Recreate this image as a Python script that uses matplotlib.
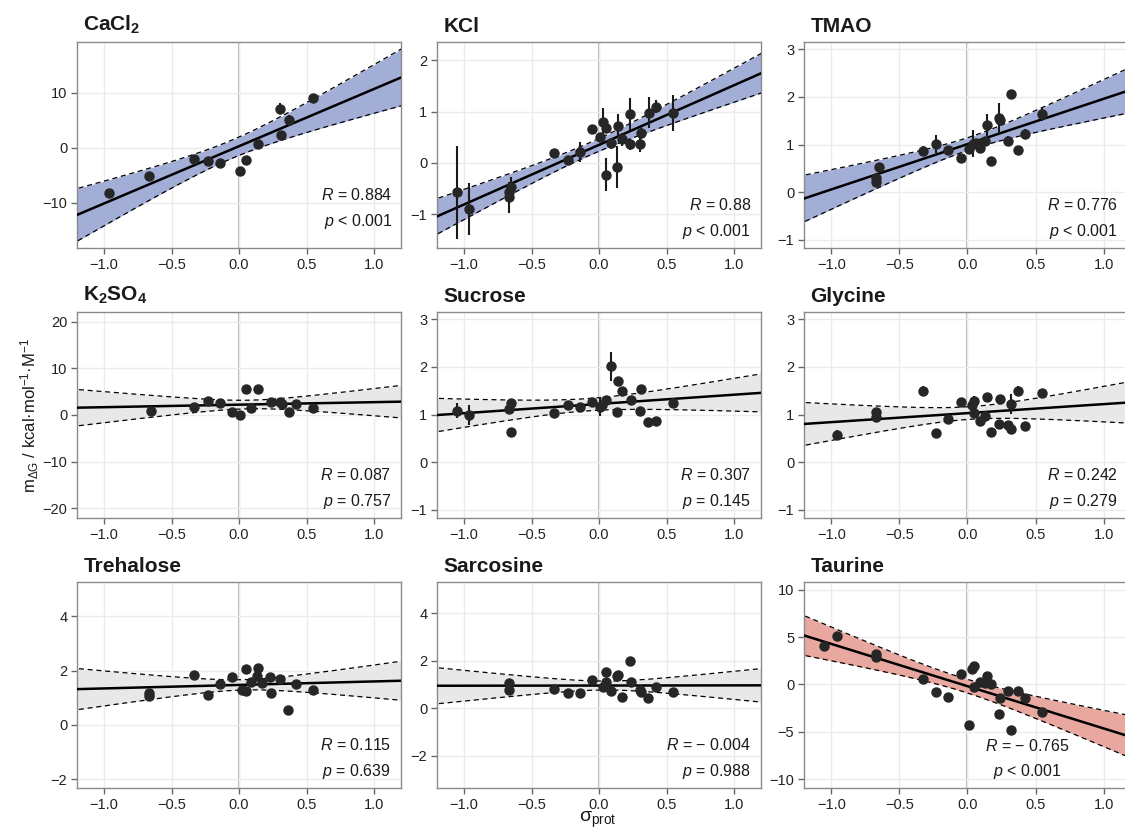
import numpy as np
import matplotlib
matplotlib.use("Agg")
import matplotlib.pyplot as plt

plt.rcParams['font.family'] = ['Liberation Sans', 'DejaVu Sans']
plt.rcParams['mathtext.fontset'] = 'custom'
plt.rcParams['mathtext.rm'] = 'Liberation Sans'
plt.rcParams['mathtext.it'] = 'Liberation Sans:italic'
plt.rcParams['mathtext.bf'] = 'Liberation Sans:bold'

# ---- data ----
cacl2_x = [-0.96, -0.67, -0.33, -0.23, -0.14, 0.01, 0.05, 0.14, 0.30, 0.31, 0.37, 0.55]
cacl2_y = [-8.2, -5.2, -2.1, -2.4, -2.8, -4.3, -2.3, 0.7, 7.1, 2.4, 5.1, 9.1]
cacl2_err = [0, 0, 0, 0, 0, 0, 0, 0, 1.0, 0, 0.8, 0.7]

kcl_x = [-1.05, -0.96, -0.67, -0.67, -0.65, -0.33, -0.23, -0.14, -0.05, 0.01, 0.03, 0.05,
         0.05, 0.09, 0.13, 0.14, 0.17, 0.23, 0.23, 0.30, 0.31, 0.37, 0.42, 0.55]
kcl_y = [-0.57, -0.90, -0.67, -0.57, -0.47, 0.20, 0.06, 0.21, 0.66, 0.50, 0.80, 0.69,
         -0.23, 0.38, -0.07, 0.73, 0.46, 0.95, 0.36, 0.36, 0.59, 0.98, 1.10, 0.97]
kcl_err = [0.91, 0.50, 0.30, 0.10, 0.20, 0.0, 0.08, 0.20, 0.0, 0.0, 0.28, 0.0,
           0.32, 0.10, 0.41, 0.22, 0.13, 0.31, 0.10, 0.15, 0.12, 0.30, 0.13, 0.35]

tmao_x = [-0.67, -0.67, -0.65, -0.33, -0.23, -0.14, -0.05, 0.01, 0.04, 0.06, 0.09, 0.13,
          0.14, 0.17, 0.23, 0.24, 0.30, 0.32, 0.37, 0.42, 0.55]
tmao_y = [0.22, 0.30, 0.53, 0.87, 1.02, 0.88, 0.71, 0.90, 1.02, 1.03, 0.92, 1.07,
          1.41, 0.66, 1.56, 1.52, 1.08, 2.05, 0.89, 1.22, 1.63]
tmao_err = [0, 0, 0.08, 0.10, 0.19, 0, 0, 0.05, 0.28, 0, 0.10, 0,
            0.23, 0, 0.31, 0, 0.10, 0.10, 0, 0.10, 0.13]

k2so4_x = [-0.65, -0.33, -0.23, -0.14, -0.05, 0.01, 0.05, 0.09, 0.14, 0.24, 0.30, 0.32,
           0.37, 0.42, 0.55]
k2so4_y = [0.85, 1.7, 3.0, 2.6, 0.7, 0.07, 5.5, 1.6, 5.5, 2.8, 2.8, 2.4, 0.6, 2.3, 1.4]
k2so4_err = [0] * 15

sucrose_x = [-1.05, -0.96, -0.67, -0.65, -0.65, -0.33, -0.23, -0.14, -0.05, 0.01, 0.02,
             0.05, 0.09, 0.14, 0.17, 0.13, 0.24, 0.30, 0.31, 0.36, 0.42, 0.55]
sucrose_y = [1.08, 0.99, 1.11, 1.24, 0.64, 1.03, 1.19, 1.15, 1.26, 1.16, 1.19,
             1.31, 2.01, 1.71, 1.50, 1.06, 1.30, 1.08, 1.54, 0.84, 0.87, 1.24]
sucrose_err = [0.16, 0.21, 0, 0, 0, 0, 0, 0, 0, 0.20, 0,
               0.08, 0.31, 0, 0, 0, 0, 0, 0, 0, 0, 0]

glycine_x = [-0.96, -0.67, -0.67, -0.33, -0.23, -0.14, -0.05, 0.03, 0.05, 0.05, 0.09,
             0.13, 0.14, 0.17, 0.23, 0.24, 0.30, 0.32, 0.32, 0.37, 0.42, 0.55]
glycine_y = [0.58, 1.05, 0.94, 1.50, 0.61, 0.91, 1.26, 1.19, 1.28, 1.03, 0.87,
             0.97, 1.36, 0.63, 0.80, 1.33, 0.78, 1.22, 0.69, 1.50, 0.76, 1.45]
glycine_err = [0.10, 0.05, 0.05, 0.10, 0, 0, 0.05, 0, 0.10, 0, 0,
               0, 0.10, 0, 0, 0, 0, 0.20, 0, 0.10, 0, 0.05]

trehalose_x = [-0.67, -0.67, -0.33, -0.23, -0.14, -0.05, 0.02, 0.05, 0.05, 0.09, 0.13,
               0.14, 0.17, 0.23, 0.24, 0.30, 0.36, 0.42, 0.55]
trehalose_y = [1.17, 1.05, 1.83, 1.10, 1.50, 1.77, 1.30, 2.05, 1.24, 1.59, 1.80,
               2.11, 1.56, 1.78, 1.17, 1.68, 0.56, 1.50, 1.30]
trehalose_err = [0] * 19

sarcosine_x = [-0.67, -0.67, -0.33, -0.23, -0.14, -0.05, 0.03, 0.05, 0.05, 0.09, 0.13,
               0.14, 0.17, 0.23, 0.24, 0.30, 0.31, 0.36, 0.42, 0.55]
sarcosine_y = [1.07, 0.77, 0.82, 0.63, 0.63, 1.21, 0.91, 1.52, 1.10, 0.73, 1.35,
               1.41, 0.46, 1.97, 1.10, 0.75, 0.68, 0.43, 0.91, 0.70]
sarcosine_err = [0] * 20

taurine_x = [-1.05, -0.96, -0.67, -0.67, -0.33, -0.23, -0.14, -0.05, 0.01, 0.03, 0.05,
             0.05, 0.09, 0.13, 0.14, 0.17, 0.23, 0.24, 0.30, 0.32, 0.37, 0.42, 0.55]
taurine_y = [4.04, 5.16, 3.26, 2.91, 0.60, -0.81, -1.37, 1.12, -4.28, 1.65, 2.0,
             -0.28, 0.25, 0.18, 0.88, 0.10, -3.16, -1.40, -0.70, -4.84, -0.70, -1.40, -2.88]
taurine_err = [0] * 23

titles = ['CaCl$_\\mathbf{2}$', 'KCl', 'TMAO', 'K$_\\mathbf{2}$SO$_\\mathbf{4}$', 'Sucrose', 'Glycine',
          'Trehalose', 'Sarcosine', 'Taurine']
r_labels = ['0.884', '0.88', '0.776', '0.087', '0.307', '0.242', '0.115', '\u2212 0.004', '\u2212 0.765']
p_labels = ['< 0.001', '< 0.001', '< 0.001', '= 0.757', '= 0.145', '= 0.279',
            '= 0.639', '= 0.988', '< 0.001']
band_kind = ['pos', 'pos', 'pos', 'ns', 'ns', 'ns', 'ns', 'ns', 'neg']

ylims = [(-18.2, 19.2), (-1.66, 2.36), (-1.17, 3.15),
         (-22.1, 22.1), (-1.17, 3.15), (-1.17, 3.15),
         (-2.33, 5.27), (-3.35, 5.31), (-10.95, 10.84)]
yticks = [[-10, 0, 10], [-1, 0, 1, 2], [-1, 0, 1, 2, 3],
          [-20, -10, 0, 10, 20], [-1, 0, 1, 2, 3], [-1, 0, 1, 2, 3],
          [-2, 0, 2, 4], [-2, 0, 2, 4], [-10, -5, 0, 5, 10]]

series = [(cacl2_x, cacl2_y, cacl2_err), (kcl_x, kcl_y, kcl_err), (tmao_x, tmao_y, tmao_err),
          (k2so4_x, k2so4_y, k2so4_err), (sucrose_x, sucrose_y, sucrose_err),
          (glycine_x, glycine_y, glycine_err), (trehalose_x, trehalose_y, trehalose_err),
          (sarcosine_x, sarcosine_y, sarcosine_err), (taurine_x, taurine_y, taurine_err)]

band_colors = {'pos': '#a3aed6', 'neg': '#e8a8a0', 'ns': '#e8e8e8'}


def t975(df):
    # Cornish-Fisher style expansion of the t quantile
    z = 1.959964
    return (z + (z**3 + z) / (4 * df) + (5 * z**5 + 16 * z**3 + 3 * z) / (96 * df**2)
            + (3 * z**7 + 19 * z**5 + 17 * z**3 - 15 * z) / (384 * df**3))


W, H = 1125, 832
fig = plt.figure(figsize=(W / 100, H / 100), dpi=100)
col_left = [77, 437, 804]
row_top = [42, 312, 582]
ax_w, ax_h = 324, 206

for i, (xs, ys, es) in enumerate(series):
    r, c = divmod(i, 3)
    ax = fig.add_axes([col_left[c] / W, 1 - (row_top[r] + ax_h) / H, ax_w / W, ax_h / H])
    x = np.array(xs)
    y = np.array(ys)
    e = np.array(es, dtype=float)

    # OLS fit with 95% confidence band
    n = len(x)
    b1, b0 = np.polyfit(x, y, 1)
    resid = y - (b0 + b1 * x)
    s = np.sqrt(np.sum(resid**2) / (n - 2))
    sxx = np.sum((x - x.mean())**2)
    xx = np.linspace(-1.25, 1.25, 200)
    yy = b0 + b1 * xx
    half = t975(n - 2) * s * np.sqrt(1 / n + (xx - x.mean())**2 / sxx)

    ax.set_facecolor('white')
    ax.grid(True, color='#ebebeb', lw=1.0, zorder=0)
    ax.axvline(0, color='#b5b5b5', lw=1.5, zorder=1)
    ax.fill_between(xx, yy - half, yy + half, color=band_colors[band_kind[i]], lw=0, zorder=2)
    ax.plot(xx, yy - half, color='black', lw=0.9, ls=(0, (4, 3)), zorder=3)
    ax.plot(xx, yy + half, color='black', lw=0.9, ls=(0, (4, 3)), zorder=3)
    ax.plot(xx, yy, color='black', lw=1.8, zorder=4)

    m = e > 0
    ax.errorbar(x[m], y[m], yerr=e[m], fmt='none', ecolor='#1a1a1a', elinewidth=1.5, zorder=5)
    ax.plot(x, y, 'o', color='#262626', ms=6.5, mec='#262626', zorder=6)

    ax.set_xlim(-1.2, 1.2 if c < 2 else 1.178)
    ax.set_ylim(*ylims[i])
    ax.set_xticks([-1.0, -0.5, 0.0, 0.5, 1.0])
    ax.set_xticklabels(['\u22121.0', '\u22120.5', '0.0', '0.5', '1.0'])
    ax.set_yticks(yticks[i])
    ax.set_yticklabels([str(v).replace('-', '\u2212') for v in yticks[i]])
    ax.tick_params(labelsize=10.5, colors='#222222', length=4, width=1, color='#666666', pad=3)
    for sp in ax.spines.values():
        sp.set_color('#8a8a8a')
        sp.set_linewidth(1.0)

    ax.text(0.02, 1.03, titles[i], transform=ax.transAxes, fontsize=15, fontweight='bold',
            ha='left', va='bottom', color='#1a1a1a')

    if band_kind[i] == 'neg':
        tx, ha, yr, yp = 0.69, 'center', 0.205, 0.08
    elif i == 0:
        tx, ha, yr, yp = 0.975, 'right', 0.255, 0.13
    else:
        tx, ha, yr, yp = 0.97, 'right', 0.21, 0.08
    ax.text(tx, yr, '$\\mathit{R}$ = ' + r_labels[i], transform=ax.transAxes, fontsize=11.5,
            ha=ha, va='center', color='#1a1a1a')
    ax.text(tx, yp, '$\\mathit{p}$ ' + p_labels[i], transform=ax.transAxes, fontsize=11.5,
            ha=ha, va='center', color='#1a1a1a')

fig.text(30 / W, 1 - 415 / H, 'm$_{\\Delta\\mathrm{G}}$ / kcal\u00b7mol$^{-1}$\u00b7M$^{-1}$',
         rotation=90, ha='center', va='center', fontsize=12, color='#1a1a1a')
fig.text(598 / W, 1 - 820 / H, '$\\mathrm{\\sigma}_{\\mathrm{prot}}$', ha='center', va='center',
         fontsize=14, color='#1a1a1a')

fig.savefig('out.png', dpi=100)
